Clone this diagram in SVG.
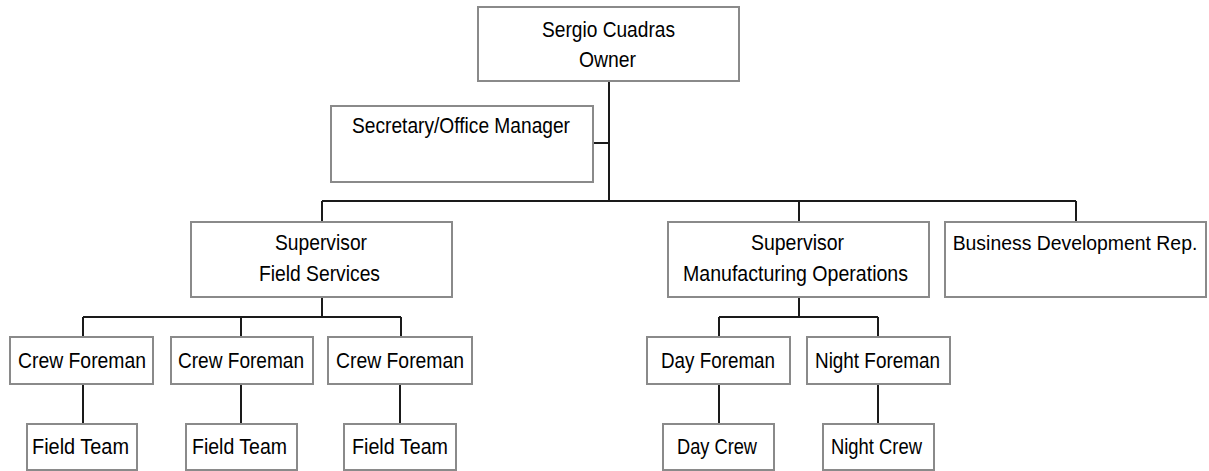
<svg xmlns="http://www.w3.org/2000/svg" width="1209" height="471" viewBox="0 0 1209 471">
<style>
.box{fill:#ffffff;stroke:#8a8a8a;stroke-width:2}
.ln{fill:none;stroke:#1a1a1a;stroke-width:2}
text{font-family:"Liberation Sans","Arial",sans-serif;font-size:22px;fill:#000000;text-anchor:middle}
.sm{font-size:19.4px}
</style>
<rect x="0" y="0" width="1209" height="471" fill="#ffffff"/>
<g id="connectors">
<path class="ln" d="M609,81 V201 M593,143 H609 M322,201 H1076 M322,201 V222 M799,201 V222 M1076,201 V222"/>
<path class="ln" d="M322,297 V317 M83,317 H401 M83,317 V337 M241,317 V337 M401,317 V337"/>
<path class="ln" d="M83,384 V424 M241,384 V424 M400,384 V424"/>
<path class="ln" d="M799,297 V317 M719,317 H878 M719,317 V337 M878,317 V337"/>
<path class="ln" d="M719,384 V424 M878,384 V424"/>
</g>
<g id="owner">
<rect class="box" x="478" y="7" width="261" height="74"/>
<text x="608.5" y="37" textLength="133" lengthAdjust="spacingAndGlyphs">Sergio Cuadras</text>
<text x="607.5" y="67" textLength="57" lengthAdjust="spacingAndGlyphs">Owner</text>
</g>
<g id="secretary">
<rect class="box" x="331" y="106" width="262" height="76"/>
<text x="461" y="133" textLength="218" lengthAdjust="spacingAndGlyphs">Secretary/Office Manager</text>
</g>
<g id="sup-field">
<rect class="box" x="191" y="222" width="261" height="75"/>
<text x="321" y="250" textLength="92" lengthAdjust="spacingAndGlyphs">Supervisor</text>
<text x="319.5" y="281" textLength="121" lengthAdjust="spacingAndGlyphs">Field Services</text>
</g>
<g id="sup-mfg">
<rect class="box" x="668" y="222" width="261" height="75"/>
<text x="797.5" y="250" textLength="93" lengthAdjust="spacingAndGlyphs">Supervisor</text>
<text x="795.5" y="281" textLength="225" lengthAdjust="spacingAndGlyphs">Manufacturing Operations</text>
</g>
<g id="bizdev">
<rect class="box" x="945" y="222" width="261" height="75"/>
<text class="sm" x="1075" y="250">Business Development Rep.</text>
</g>
<g id="crew1">
<rect class="box" x="10" y="337" width="143" height="47"/>
<text x="82" y="368" textLength="128" lengthAdjust="spacingAndGlyphs">Crew Foreman</text>
</g>
<g id="crew2">
<rect class="box" x="171" y="337" width="142" height="47"/>
<text x="241" y="368" textLength="126" lengthAdjust="spacingAndGlyphs">Crew Foreman</text>
</g>
<g id="crew3">
<rect class="box" x="328" y="337" width="144" height="47"/>
<text x="400" y="368" textLength="128" lengthAdjust="spacingAndGlyphs">Crew Foreman</text>
</g>
<g id="team1">
<rect class="box" x="27" y="424" width="110" height="46"/>
<text x="80.5" y="454" textLength="97" lengthAdjust="spacingAndGlyphs">Field Team</text>
</g>
<g id="team2">
<rect class="box" x="186" y="424" width="111" height="46"/>
<text x="239.5" y="454" textLength="95" lengthAdjust="spacingAndGlyphs">Field Team</text>
</g>
<g id="team3">
<rect class="box" x="344" y="424" width="112" height="46"/>
<text x="400" y="454" textLength="96" lengthAdjust="spacingAndGlyphs">Field Team</text>
</g>
<g id="day-foreman">
<rect class="box" x="647" y="337" width="143" height="47"/>
<text x="718" y="368" textLength="114" lengthAdjust="spacingAndGlyphs">Day Foreman</text>
</g>
<g id="night-foreman">
<rect class="box" x="807" y="337" width="143" height="47"/>
<text x="877.5" y="368" textLength="125" lengthAdjust="spacingAndGlyphs">Night Foreman</text>
</g>
<g id="day-crew">
<rect class="box" x="663" y="424" width="111" height="46"/>
<text x="717" y="454" textLength="80" lengthAdjust="spacingAndGlyphs">Day Crew</text>
</g>
<g id="night-crew">
<rect class="box" x="823" y="424" width="111" height="46"/>
<text x="876.5" y="454" textLength="91" lengthAdjust="spacingAndGlyphs">Night Crew</text>
</g>
</svg>
